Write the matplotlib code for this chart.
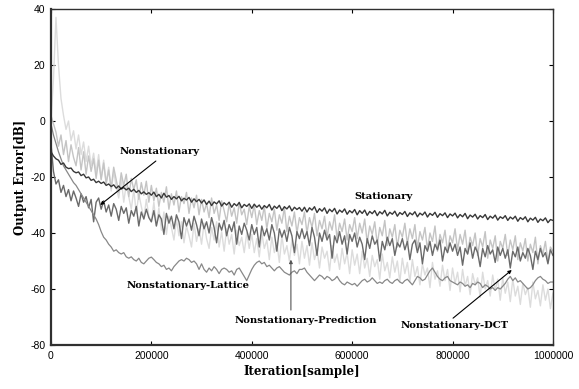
import numpy
from matplotlib import pyplot as plt

# iteration axis: one point every 5000 samples
iterations = numpy.arange(0, 1000001, 5000)

stationary = [
	-11.0, -12.5, -13.5, -14.0, -15.5, -15.0, -16.5, -17.0, -16.8, -18.0, -18.5, -18.2, -19.5, -19.0, -20.3, -20.0, -21.2, -20.8, -22.0, -21.5,
	-22.3, -21.8, -23.0, -22.5, -23.4, -22.8, -24.0, -23.2, -24.3, -23.8, -24.6, -24.0, -25.2, -24.4, -25.5, -24.8, -26.0, -25.3, -26.2, -25.6,
	-26.5, -25.4, -27.0, -26.2, -27.5, -25.8, -27.2, -26.6, -28.0, -27.0, -27.8, -26.9, -28.5, -27.6, -28.2, -27.3, -29.0, -27.8, -28.8, -28.0,
	-29.3, -28.2, -29.8, -28.6, -30.2, -28.9, -29.6, -28.5, -30.4, -29.2, -30.0, -29.0, -30.8, -29.5, -30.3, -29.1, -31.0, -29.8, -30.5, -29.6,
	-31.2, -29.7, -30.8, -30.0, -31.5, -30.2, -31.0, -29.8, -31.8, -30.4, -31.2, -30.1, -32.0, -30.6, -31.4, -30.3, -32.1, -30.8, -31.6, -30.9,
	-32.2, -30.8, -32.5, -31.0, -31.8, -30.6, -32.7, -31.3, -32.2, -31.0, -33.0, -31.5, -32.4, -31.2, -33.2, -31.8, -32.6, -31.4, -33.3, -32.0,
	-32.8, -31.6, -33.5, -32.0, -33.0, -31.8, -33.7, -32.3, -33.1, -32.0, -33.8, -32.4, -33.2, -31.9, -33.9, -32.6, -33.3, -32.2, -34.0, -32.7,
	-33.4, -32.3, -34.1, -32.8, -33.5, -32.4, -34.2, -32.9, -33.6, -32.5, -34.3, -33.0, -33.7, -32.6, -34.4, -33.1, -33.8, -32.8, -34.5, -33.2,
	-33.9, -32.9, -34.6, -33.4, -34.2, -33.0, -34.9, -33.6, -34.3, -33.3, -35.0, -33.8, -34.5, -33.4, -35.2, -34.0, -34.7, -33.6, -35.4, -34.2,
	-34.8, -33.8, -35.5, -34.3, -35.0, -34.0, -35.8, -34.5, -35.2, -34.2, -36.0, -34.7, -35.4, -34.4, -36.2, -35.0, -35.6, -34.6, -36.3, -35.2,
	-35.5]

nonstationary = [
	-8.0, -18.0, -22.5, -21.0, -25.5, -23.0, -27.0, -24.5, -28.5, -25.0, -27.5, -30.5, -26.0, -29.0, -27.0, -31.0, -28.0, -36.0, -29.0, -27.5,
	-31.5, -28.5, -32.5, -30.0, -34.0, -29.5, -31.5, -35.5, -30.5, -33.0, -31.0, -36.5, -32.0, -34.0, -30.5, -37.5, -32.5, -35.0, -31.5, -34.5,
	-36.0, -32.0, -37.5, -33.5, -35.0, -40.5, -33.0, -36.5, -34.0, -38.5, -33.5, -36.0, -42.0, -34.5, -37.5, -35.0, -39.0, -34.0, -37.0, -41.0,
	-35.0, -38.5, -36.0, -40.0, -34.5, -38.0, -43.5, -36.5, -39.0, -35.5, -41.0, -37.0, -39.5, -36.0, -44.0, -37.5, -40.5, -36.5, -39.0, -42.5,
	-37.0, -40.5, -38.0, -45.0, -37.5, -41.0, -38.5, -42.5, -37.0, -40.0, -46.5, -38.5, -41.5, -39.0, -43.0, -38.0, -41.0, -47.0, -39.5, -42.0,
	-38.5, -42.0, -39.5, -44.5, -38.0, -41.5, -48.0, -40.0, -43.0, -39.0, -42.5, -40.5, -49.0, -41.0, -43.5, -39.5, -44.0, -41.0, -47.5, -40.5,
	-43.0, -40.0, -45.0, -41.5, -44.0, -49.5, -42.0, -45.5, -41.0, -44.0, -42.5, -50.0, -43.0, -46.0, -41.5, -44.5, -42.0, -48.0, -43.5, -45.0,
	-42.0, -46.0, -43.0, -49.5, -44.0, -42.5, -47.0, -43.5, -51.0, -44.5, -46.5, -43.0, -48.0, -44.0, -46.0, -42.5, -50.0, -45.0, -47.0, -43.5,
	-46.5, -44.0, -48.0, -45.0, -51.5, -45.5, -47.5, -43.5, -49.0, -45.0, -47.0, -52.0, -45.5, -48.5, -44.5, -47.5, -46.0, -50.5, -45.0, -48.0,
	-45.5, -49.0, -46.0, -52.5, -46.5, -48.5, -45.0, -50.0, -47.0, -49.0, -45.5, -48.0, -53.0, -46.5, -49.5, -45.5, -48.5, -47.0, -51.0, -46.0,
	-48.0]

lattice = [
	-1.0, -5.0, -8.0, -11.0, -13.5, -16.0, -17.5, -19.0, -20.5, -22.0, -23.0, -24.5, -26.0, -27.5, -29.0, -30.5, -32.0, -33.5, -35.0, -37.0,
	-39.5, -41.5, -42.5, -44.0, -45.0, -46.5, -46.0, -47.0, -47.5, -47.0, -48.5, -49.0, -48.5, -49.5, -50.0, -49.0, -50.5, -51.0, -50.0, -49.0,
	-48.6, -49.5, -50.5, -51.0, -52.0, -51.5, -53.0, -52.5, -53.5, -52.0, -51.0, -50.0, -49.5, -50.0, -49.0, -49.5, -50.5, -50.0, -51.0, -53.0,
	-51.0, -53.0, -54.0, -52.5, -53.5, -52.0, -53.0, -54.5, -53.0, -52.5, -53.0, -54.0, -53.5, -55.0, -53.0, -52.5, -54.0, -55.5, -57.0, -55.0,
	-53.0, -51.5, -50.5, -50.0, -51.0, -50.5, -52.0, -51.5, -52.5, -53.5, -52.5, -52.0, -53.0, -54.0, -54.5, -55.0, -54.0, -53.5, -54.5, -53.0,
	-53.0, -52.5, -54.0, -55.0, -56.0, -57.0, -56.0, -55.0, -55.5, -56.5, -55.5, -56.0, -57.0, -56.5, -55.5, -57.0, -58.0, -58.5, -57.5, -58.0,
	-58.5, -58.0, -59.0, -58.0, -57.0, -56.5, -57.5, -57.0, -56.0, -57.0, -58.0, -57.5, -58.0, -57.0, -56.5, -57.5, -58.0, -57.0, -56.5, -57.5,
	-58.0, -57.0, -56.5, -57.5, -58.5, -57.0, -55.5, -56.0, -57.0, -56.5, -55.0, -53.5, -52.5, -54.0, -55.5, -56.5, -57.0, -56.0, -55.5, -57.0,
	-57.5, -58.0, -58.5, -57.5, -58.0, -59.0, -58.5, -59.5, -58.0, -58.5, -57.5, -58.0, -59.5, -58.5, -59.0, -60.0, -59.5, -60.5, -59.5, -60.0,
	-59.0, -58.0, -56.5, -55.5, -57.0, -56.0, -57.5, -57.0, -58.0, -59.0, -60.0, -59.5, -58.5, -57.0, -56.0, -55.5, -56.5, -57.0, -58.0, -57.5,
	-57.5]

dct = [
	2.0, -1.0, -4.0, -9.0, -5.0, -12.0, -7.0, -14.5, -8.5, -13.0, -16.0, -9.5, -17.5, -11.0, -19.0, -12.5, -18.0, -13.5, -20.5, -14.0,
	-21.0, -15.0, -22.5, -17.5, -24.0, -16.5, -21.0, -25.5, -18.5, -23.0, -19.0, -27.0, -20.5, -24.5, -21.0, -28.0, -22.0, -26.5, -21.5, -29.0,
	-23.0, -28.5, -24.0, -30.5, -25.5, -29.0, -23.5, -31.5, -26.0, -30.0, -25.0, -32.5, -27.0, -29.5, -25.5, -33.0, -27.5, -31.0, -26.5, -33.5,
	-28.0, -32.5, -29.5, -34.5, -27.5, -33.0, -30.0, -35.5, -28.5, -32.0, -36.0, -29.5, -34.0, -31.0, -36.5, -29.0, -33.5, -31.5, -37.0, -30.5,
	-34.5, -30.0, -37.0, -32.0, -35.5, -30.5, -38.5, -33.0, -36.0, -31.5, -39.0, -33.5, -36.5, -31.0, -39.5, -34.0, -37.5, -32.5, -40.0, -34.5,
	-37.0, -32.5, -40.0, -34.5, -38.0, -33.0, -41.0, -35.5, -38.5, -34.0, -41.5, -36.0, -39.0, -33.5, -42.0, -36.5, -39.5, -35.0, -42.5, -37.0,
	-39.5, -34.5, -42.0, -36.5, -40.0, -35.0, -43.5, -37.5, -40.5, -36.0, -44.0, -38.0, -41.0, -35.5, -44.5, -38.5, -41.5, -37.0, -45.0, -39.0,
	-41.5, -36.5, -44.0, -38.5, -42.0, -37.0, -45.5, -39.5, -42.5, -38.0, -46.0, -40.0, -43.0, -37.5, -46.5, -40.5, -43.5, -39.0, -47.0, -41.0,
	-43.5, -38.5, -46.0, -40.5, -44.0, -39.0, -47.5, -41.5, -44.5, -40.0, -48.0, -42.0, -45.0, -39.5, -49.0, -42.5, -45.5, -41.0, -50.0, -43.0,
	-45.5, -40.5, -48.0, -42.5, -46.0, -41.0, -49.5, -43.5, -46.5, -42.0, -50.0, -44.0, -47.0, -41.5, -51.0, -44.5, -47.5, -43.0, -50.5, -45.0,
	-46.5]

prediction = [
	0.0, 15.0, 37.0, 20.0, 8.0, 2.0, -3.0, 0.0, -7.0, -3.5, -10.0, -5.0, -12.0, -7.5, -14.5, -9.0, -16.0, -11.5, -18.5, -12.0,
	-20.5, -14.0, -22.0, -16.5, -25.0, -18.0, -23.5, -27.5, -20.5, -29.0, -22.5, -27.0, -31.5, -24.5, -33.0, -26.0, -30.5, -35.0, -28.0, -34.0,
	-36.0, -29.0, -37.5, -31.0, -39.0, -32.5, -40.5, -34.0, -38.0, -42.5, -35.0, -41.0, -36.0, -43.5, -37.5, -41.0, -45.0, -36.5, -43.0, -38.5,
	-44.0, -36.5, -42.0, -45.5, -38.0, -42.5, -36.0, -45.0, -39.5, -46.5, -38.5, -44.0, -40.5, -47.5, -39.0, -44.5, -41.5, -47.0, -40.0, -45.5,
	-40.5, -47.0, -42.0, -48.5, -40.0, -45.5, -42.5, -49.5, -41.5, -47.0, -43.5, -50.5, -41.0, -47.5, -44.5, -50.0, -42.5, -48.0, -44.0, -51.0,
	-43.0, -49.0, -44.5, -51.5, -43.5, -49.5, -46.0, -52.5, -45.0, -49.0, -46.5, -53.5, -44.5, -50.5, -47.5, -53.0, -45.5, -51.0, -47.0, -54.5,
	-46.0, -51.5, -47.5, -54.5, -46.5, -52.5, -49.0, -55.5, -48.0, -52.0, -49.5, -56.5, -47.5, -53.5, -50.5, -56.0, -48.5, -54.0, -50.0, -57.5,
	-49.0, -54.5, -50.5, -57.5, -49.5, -55.5, -52.0, -58.5, -51.0, -55.0, -52.5, -59.5, -50.5, -56.5, -53.5, -59.0, -51.5, -57.0, -53.0, -60.5,
	-52.5, -58.0, -54.0, -61.0, -53.0, -59.0, -55.5, -62.0, -54.5, -58.5, -56.0, -63.0, -54.0, -60.0, -57.0, -62.5, -55.0, -60.5, -56.5, -64.0,
	-56.0, -61.5, -57.5, -64.5, -56.5, -62.5, -59.0, -65.5, -58.0, -62.0, -59.5, -66.5, -57.5, -63.5, -60.5, -66.0, -58.5, -64.0, -60.0, -67.0,
	-61.5]

x_ticks = [0, 200000, 400000, 600000, 800000, 1000000]
y_ticks = [-80, -60, -40, -20, 0, 20, 40]

label_font = {'family': 'DejaVu Serif', 'weight': 'bold', 'size': 7.2}
axis_font = {'family': 'DejaVu Serif', 'weight': 'bold', 'size': 8.5}

fig = plt.figure(figsize=(5.79, 3.89), dpi=100)
ax = fig.add_axes([0.088, 0.113, 0.867, 0.864])

# lightest curves first so the darker ones sit on top
ax.plot(iterations, prediction, color='#dcdcdc', lw=1.0)
ax.plot(iterations, dct, color='#c4c4c4', lw=1.0)
ax.plot(iterations, nonstationary, color='#6a6a6a', lw=1.0)
ax.plot(iterations, lattice, color='#888888', lw=0.9)
ax.plot(iterations, stationary, color='#383838', lw=1.0)

ax.set_xlim(0, 1000000)
ax.set_ylim(-80, 40)
ax.set_xticks(x_ticks)
ax.set_yticks(y_ticks)
ax.set_xticklabels([str(t) for t in x_ticks], fontfamily='Liberation Sans', fontsize=7.5)
ax.set_yticklabels([str(t) for t in y_ticks], fontfamily='Liberation Sans', fontsize=7.5)
ax.tick_params(direction='in', top=True, right=True, length=3, width=0.8, pad=4)

for side in ['top', 'right']:
	ax.spines[side].set_linewidth(1.0)
for side in ['left', 'bottom']:
	ax.spines[side].set_linewidth(1.6)
for side in ax.spines:
	ax.spines[side].set_color('#303030')

ax.set_xlabel("Iteration[sample]", fontdict=axis_font, labelpad=3)
ax.set_ylabel("Output Error[dB]", fontdict=axis_font, labelpad=2)

#labels, then the arrows that point from them to the curves
arrow = dict(arrowstyle='-|>', color='black', lw=0.8, mutation_scale=5, shrinkA=0, shrinkB=0)
ax.text(217000, -11, "Nonstationary", ha='center', va='center', **label_font)
ax.annotate("", xy=(98000, -30), xytext=(209000, -14.3), arrowprops=arrow)
ax.text(663000, -27, "Stationary", ha='center', va='center', **label_font)
ax.text(273000, -58.6, "Nonstationary-Lattice", ha='center', va='center', **label_font)
ax.text(508000, -71.4, "Nonstationary-Prediction", ha='center', va='center', **label_font)
ax.annotate("", xy=(478000, -49.5), xytext=(478000, -67.5), arrowprops=dict(arrow, color='#555555'))
ax.text(805000, -73.2, "Nonstationary-DCT", ha='center', va='center', **label_font)
ax.annotate("", xy=(918000, -53.2), xytext=(801000, -70.4), arrowprops=arrow)

fig.savefig("out.png", dpi=100)
